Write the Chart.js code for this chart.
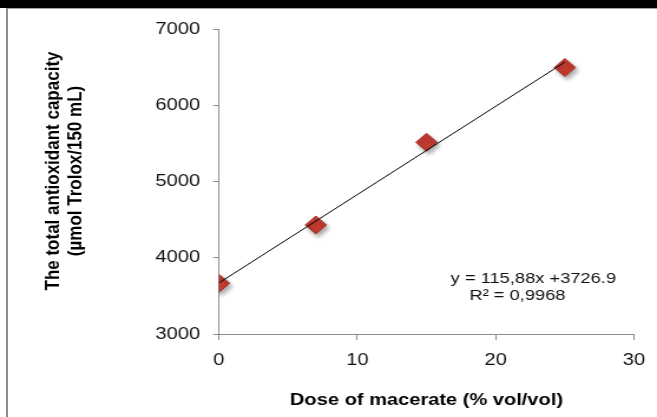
<!DOCTYPE html>
<html>
<head>
<meta charset="utf-8">
<script src="https://cdn.jsdelivr.net/npm/chart.js@4/dist/chart.umd.min.js"></script>
<style>
  body { margin: 0; background: #fff; }
  #wrap { position: relative; width: 657px; height: 417px; overflow: hidden; }
  #bar { position: absolute; left: 0; top: 0; width: 657px; height: 8px; background: #000; }
  #frame { position: absolute; left: 6px; top: 8px; width: 660px; height: 420px;
           border-left: 2px solid #8c8c8c; border-top: 1px solid #a0a0a0; }
  canvas { position: absolute; left: 0; top: 0; }
</style>
</head>
<body>
<div id="wrap">
  <canvas id="js--chart" width="557" height="417" style="width:657px;height:417px"></canvas>
  <div id="bar"></div>
  <div id="frame"></div>
</div>
<script>
// values
const doseX = [0, 7, 15, 25];
const capacityY = [3665, 4430, 5515, 6495];

// trend line ends (as drawn in the picture)
const trendX = [0, 25];
const trendY = [3670, 6565];

const xTicks = [0, 10, 20, 30];
const yTicks = [3000, 4000, 5000, 6000, 7000];

const yTitle = ['The total antioxidant capacity', '(\u00b5mol Trolox/150 mL)'];
const equationLines = ['y = 115,88x +3726.9', 'R\u00b2 = 0,9968'];

Chart.defaults.font.family = "'Liberation Sans', Arial, sans-serif";
Chart.defaults.color = '#111';

// y title is drawn here so it can sit a bit above the middle like in the picture
const yTitlePlugin = {
  id: 'yTitle',
  afterDraw(chart) {
    const ctx = chart.ctx;
    ctx.save();
    ctx.font = "bold 17px 'Liberation Sans', Arial, sans-serif";
    ctx.fillStyle = '#000';
    ctx.textAlign = 'center';
    ctx.textBaseline = 'middle';
    ctx.translate(45, 171);
    ctx.rotate(-Math.PI / 2);
    ctx.fillText(yTitle[0], 0, 0);
    ctx.fillText(yTitle[1], 0, 19.5);
    ctx.restore();
  }
};

const equationPlugin = {
  id: 'equation',
  afterDraw(chart) {
    const ctx = chart.ctx;
    const x = chart.scales.x, y = chart.scales.y;
    ctx.save();
    ctx.font = "15.5px 'Liberation Sans', Arial, sans-serif";
    ctx.fillStyle = '#111';
    ctx.textBaseline = 'middle';
    ctx.textAlign = 'left';
    ctx.fillText(equationLines[0], x.getPixelForValue(16.75), y.getPixelForValue(3725));
    ctx.fillText(equationLines[1], x.getPixelForValue(18.1), y.getPixelForValue(3505));
    ctx.restore();
  }
};

// soft shadow under the diamonds
const shadowPlugin = {
  id: 'markerShadow',
  beforeDatasetDraw(chart, args) {
    if (args.meta.type !== 'scatter') return;
    const ctx = chart.ctx;
    ctx.save();
    ctx.shadowColor = 'rgba(0,0,0,0.35)';
    ctx.shadowBlur = 4;
    ctx.shadowOffsetX = 2;
    ctx.shadowOffsetY = 3;
  },
  afterDatasetDraw(chart, args) {
    if (args.meta.type !== 'scatter') return;
    chart.ctx.restore();
  }
};

const data = {
  datasets: [
    {
      label: 'trend',
      type: 'line',
      data: trendX.map((v, i) => ({x: v, y: trendY[i]})),
      borderColor: '#000',
      borderWidth: 1,
      pointRadius: 0,
      fill: false,
      order: 0,
    },
    {
      label: 'capacity',
      type: 'scatter',
      data: doseX.map((v, i) => ({x: v, y: capacityY[i]})),
      pointStyle: 'rectRot',
      pointRadius: 9,
      pointHoverRadius: 9,
      backgroundColor: '#c23a30',
      borderColor: '#a02c27',
      borderWidth: 1,
      order: 1,
    }
  ]
};

const config = {
  type: 'scatter',
  data: data,
  plugins: [shadowPlugin, yTitlePlugin, equationPlugin],
  options: {
    responsive: false,
    devicePixelRatio: 1,
    animation: false,
    layout: { padding: { top: 29, right: 19, bottom: 0, left: 0 } },
    plugins: { legend: { display: false }, tooltip: { enabled: false } },
    scales: {
      x: {
        type: 'linear',
        min: xTicks[0],
        max: xTicks[xTicks.length - 1],
        afterFit: s => { s.height = 83; },
        afterBuildTicks: s => { s.ticks = xTicks.map(v => ({value: v})); },
        grid: { drawOnChartArea: false, drawTicks: true, tickLength: 6, color: '#8c8c8c' },
        border: { color: '#8c8c8c', width: 1 },
        ticks: { font: { size: 17 }, padding: 10, maxRotation: 0, callback: v => String(v) },
        title: {
          display: true,
          text: 'Dose of macerate (% vol/vol)',
          font: { size: 17, weight: 'bold' },
          color: '#000',
          padding: { top: 0, bottom: 6 }
        }
      },
      y: {
        type: 'linear',
        min: yTicks[0],
        max: yTicks[yTicks.length - 1],
        afterFit: s => { s.width = 185.6; },
        afterBuildTicks: s => { s.ticks = yTicks.map(v => ({value: v})); },
        grid: { drawOnChartArea: false, drawTicks: true, tickLength: 5, color: '#8c8c8c' },
        border: { color: '#8c8c8c', width: 1 },
        ticks: { font: { size: 17 }, padding: 11, callback: v => String(v) },
        title: { display: false }
      }
    }
  }
};

new Chart(document.getElementById('js--chart'), config);
</script>
</body>
</html>
